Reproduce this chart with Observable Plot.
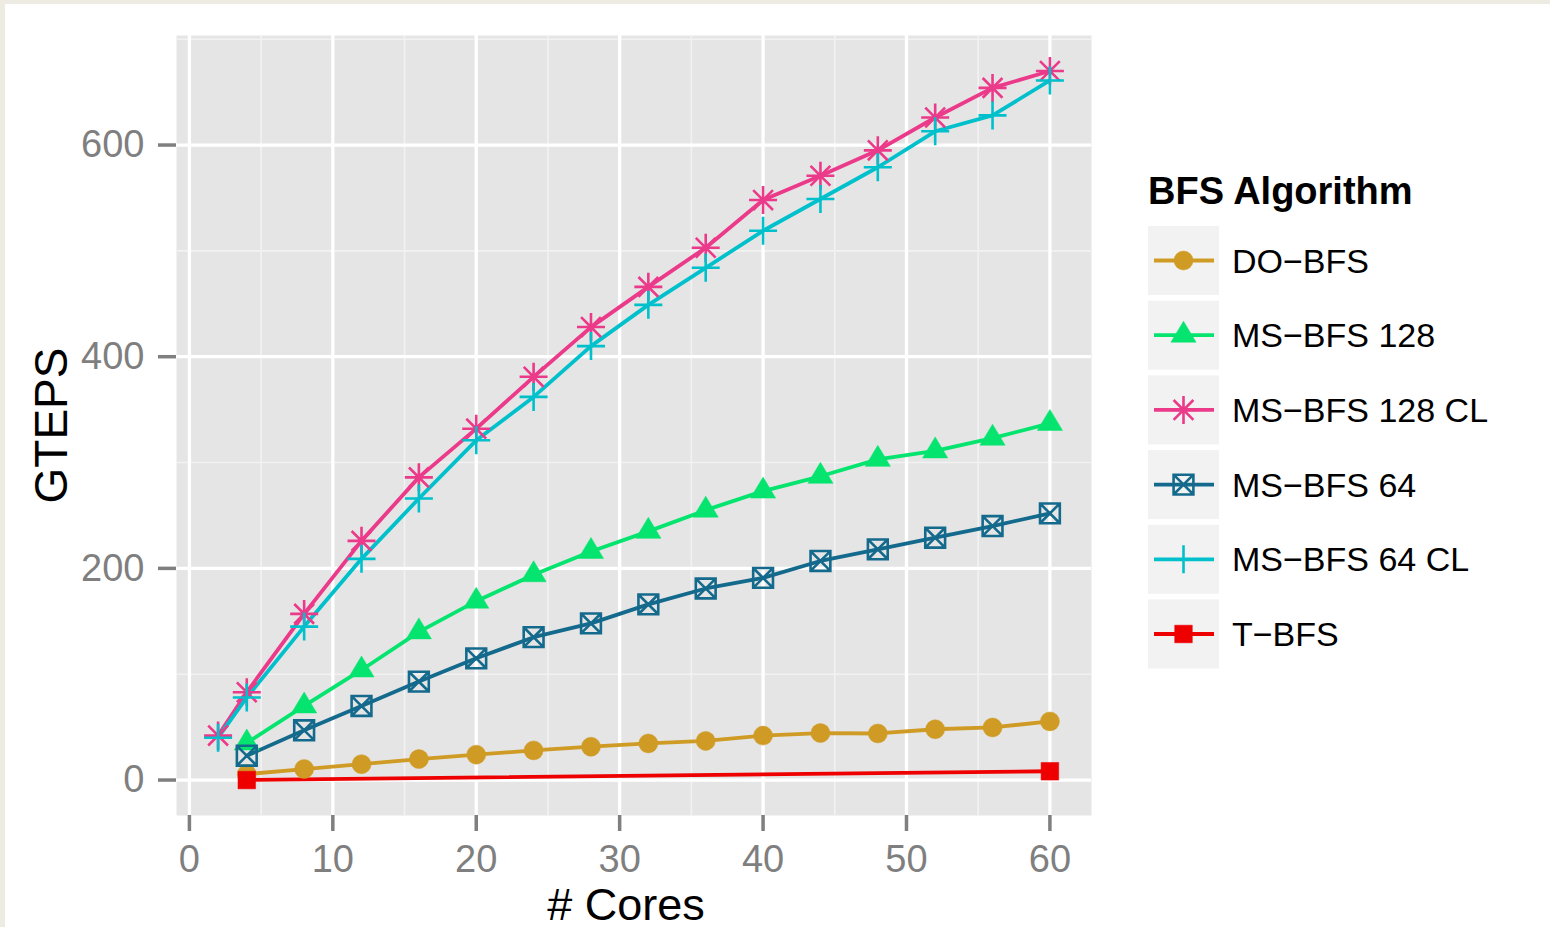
<!DOCTYPE html>
<html>
<head>
<meta charset="utf-8">
<script src="https://cdn.jsdelivr.net/npm/d3@7"></script>
<script src="https://cdn.jsdelivr.net/npm/@observablehq/plot@0.6"></script>
<style>
  html, body { margin: 0; padding: 0; background: #ffffff; overflow: hidden; }
  #wrap { position: relative; width: 1550px; height: 927px; background: #ffffff; font-family: "Liberation Sans", Arial, Helvetica, sans-serif; }
  #chart { position: absolute; left: 0; top: 0; }
  #legend { position: absolute; left: 1140px; top: 160px; }
  .edgeTop { position: absolute; left: 0; top: 0; width: 1550px; height: 4px; background: #eeebe2; }
  .edgeLeft { position: absolute; left: 0; top: 0; width: 5px; height: 927px; background: #eeebe2; }
</style>
</head>
<body>
<div id="wrap">
  <div id="chart"></div>
  <svg id="legend" width="410" height="520"></svg>
  <div class="edgeTop"></div>
  <div class="edgeLeft"></div>
</div>
<script>
// ---------- data ----------
const seriesNames = ["DO−BFS", "MS−BFS 128", "MS−BFS 128 CL", "MS−BFS 64", "MS−BFS 64 CL", "T−BFS"];
const coresCL = [2, 4, 8, 12, 16, 20, 24, 28, 32, 36, 40, 44, 48, 52, 56, 60];
const cores = [4, 8, 12, 16, 20, 24, 28, 32, 36, 40, 44, 48, 52, 56, 60];
const coresT = [4, 60];
const doBfs = [5.6, 10.4, 15, 19.8, 24, 28, 31.5, 34.6, 37, 42, 44.4, 44, 48, 49.7, 55.4];
const msBfs128 = [35, 70, 104, 140, 169, 194, 216, 235, 255, 273, 287, 303, 311, 323, 337];
const msBfs128CL = [42, 83, 157, 226, 286, 332, 381, 428, 466, 503, 548, 571, 595, 626, 654, 670];
const msBfs64 = [23, 47, 70, 93, 115, 135, 148, 166, 181, 191, 207, 218, 229, 240, 252];
const msBfs64CL = [40, 78, 145, 209, 266, 321, 362, 410, 449, 484, 519, 549, 579, 613, 628, 661];
const tBfs = [0, 8.3];
const xTicks = [0, 10, 20, 30, 40, 50, 60];
const yTicks = [0, 200, 400, 600];
const xMinor = [5, 15, 25, 35, 45, 55];
const yMinor = [100, 300, 500, 700];

// ---------- styles ----------
const seriesColors = ["#cf9b24", "#05e46e", "#ec3a8a", "#146a8c", "#00c0cb", "#ee0000"];
const mk = f => ({ draw(ctx, size) { f(ctx, Math.sqrt(size / Math.PI)); } });
const symCircle = mk((c, r) => { c.moveTo(r, 0); c.arc(0, 0, r, 0, 2 * Math.PI); c.closePath(); });
const symTri = mk((c, r) => { c.moveTo(0, -r); c.lineTo(0.9 * r, 0.5 * r); c.lineTo(-0.9 * r, 0.5 * r); c.closePath(); });
const symStar = mk((c, r) => { const d = r / Math.SQRT2; c.moveTo(-r, 0); c.lineTo(r, 0); c.moveTo(0, -r); c.lineTo(0, r); c.moveTo(-d, -d); c.lineTo(d, d); c.moveTo(-d, d); c.lineTo(d, -d); });
const symSqX = mk((c, r) => { c.moveTo(-r, -r); c.lineTo(r, -r); c.lineTo(r, r); c.lineTo(-r, r); c.closePath(); c.moveTo(-r, -r); c.lineTo(r, r); c.moveTo(-r, r); c.lineTo(r, -r); });
const symPlus = mk((c, r) => { c.moveTo(-r, 0); c.lineTo(r, 0); c.moveTo(0, -r); c.lineTo(0, r); });
const symSq = mk((c, r) => { c.moveTo(-r, -r); c.lineTo(r, -r); c.lineTo(r, r); c.lineTo(-r, r); c.closePath(); });
const seriesStyle = [
  { symbol: symCircle, r: 9.5, filled: true },
  { symbol: symTri, r: 14, filled: true },
  { symbol: symStar, r: 14, filled: false },
  { symbol: symSqX, r: 9.9, filled: false },
  { symbol: symPlus, r: 14, filled: false },
  { symbol: symSq, r: 8.8, filled: true }
];

// ---------- table ----------
const seriesX = [cores, cores, coresCL, cores, coresCL, coresT];
const seriesY = [doBfs, msBfs128, msBfs128CL, msBfs64, msBfs64CL, tBfs];
const table = [];
seriesNames.forEach((name, i) => {
  seriesX[i].forEach((c, j) => table.push({ series: name, cores: c, gteps: seriesY[i][j] }));
});

const lineMarks = seriesNames.map((name, i) =>
  Plot.line(table.filter(d => d.series === name), { x: "cores", y: "gteps", stroke: seriesColors[i], strokeWidth: 3.8 })
);
const dotMarks = seriesNames.map((name, i) => {
  const s = seriesStyle[i];
  return Plot.dot(table.filter(d => d.series === name), {
    x: "cores", y: "gteps", symbol: s.symbol, r: s.r,
    fill: s.filled ? seriesColors[i] : "none",
    stroke: seriesColors[i], strokeWidth: s.filled ? 0.5 : 2.6
  });
});

const chart = Plot.plot({
  width: 1100,
  height: 927,
  marginLeft: 176,
  marginRight: 9,
  marginTop: 35,
  marginBottom: 112,
  style: { background: "transparent", fontFamily: "'Liberation Sans', Arial, Helvetica, sans-serif", overflow: "visible" },
  x: { domain: [-0.9, 62.9] },
  y: { domain: [-33.5, 703.5] },
  marks: [
    Plot.frame({ fill: "#e5e5e5", stroke: "none" }),
    Plot.gridX(xMinor, { stroke: "#f2f2f2", strokeOpacity: 1, strokeWidth: 1.6 }),
    Plot.gridY(yMinor, { stroke: "#f2f2f2", strokeOpacity: 1, strokeWidth: 1.6 }),
    Plot.gridX(xTicks, { stroke: "#ffffff", strokeOpacity: 1, strokeWidth: 3.3 }),
    Plot.gridY(yTicks, { stroke: "#ffffff", strokeOpacity: 1, strokeWidth: 3.3 }),
    Plot.axisX(xTicks, { tickSize: 16, tickPadding: 14, fontSize: 38, color: "#7f7f7f", strokeWidth: 3.5, label: null, tickFormat: d => String(d) }),
    Plot.axisY(yTicks, { tickSize: 18, tickPadding: 14, fontSize: 38, color: "#7f7f7f", strokeWidth: 3.5, label: null, tickFormat: d => String(d) }),
    Plot.text(["# Cores"], { text: d => d, frameAnchor: "bottom", lineAnchor: "bottom", dy: 104, dx: -8, fontSize: 45, fill: "#000000" }),
    Plot.text(["GTEPS"], { text: d => d, frameAnchor: "left", textAnchor: "middle", lineAnchor: "bottom", rotate: -90, dx: -110, fontSize: 46, fill: "#000000" }),
    ...lineMarks,
    ...dotMarks
  ]
});
document.getElementById("chart").appendChild(chart);

// ---------- legend ----------
const leg = d3.select("#legend");
leg.append("text").attr("x", 8).attr("y", 44)
  .attr("font-size", 38).attr("font-weight", "bold").attr("fill", "#000")
  .attr("font-family", "'Liberation Sans', Arial, sans-serif")
  .text("BFS Algorithm");
seriesNames.forEach((name, i) => {
  const top = 66 + i * 74.7;
  const g = leg.append("g").attr("transform", `translate(8,${top})`);
  g.append("rect").attr("width", 71).attr("height", 69).attr("fill", "#f2f2f2");
  g.append("line").attr("x1", 6).attr("x2", 66).attr("y1", 34.5).attr("y2", 34.5)
    .attr("stroke", seriesColors[i]).attr("stroke-width", 3.8);
  const s = seriesStyle[i];
  g.append("path").attr("transform", "translate(35.5,34.5)")
    .attr("d", d3.symbol(s.symbol, s.r * s.r * Math.PI)())
    .attr("fill", s.filled ? seriesColors[i] : "none")
    .attr("stroke", seriesColors[i]).attr("stroke-width", s.filled ? 0.5 : 2.6);
  leg.append("text").attr("x", 92).attr("y", top + 34.5 + 12)
    .attr("font-size", 34).attr("fill", "#000")
    .attr("font-family", "'Liberation Sans', Arial, sans-serif")
    .text(name);
});
</script>
</body>
</html>
